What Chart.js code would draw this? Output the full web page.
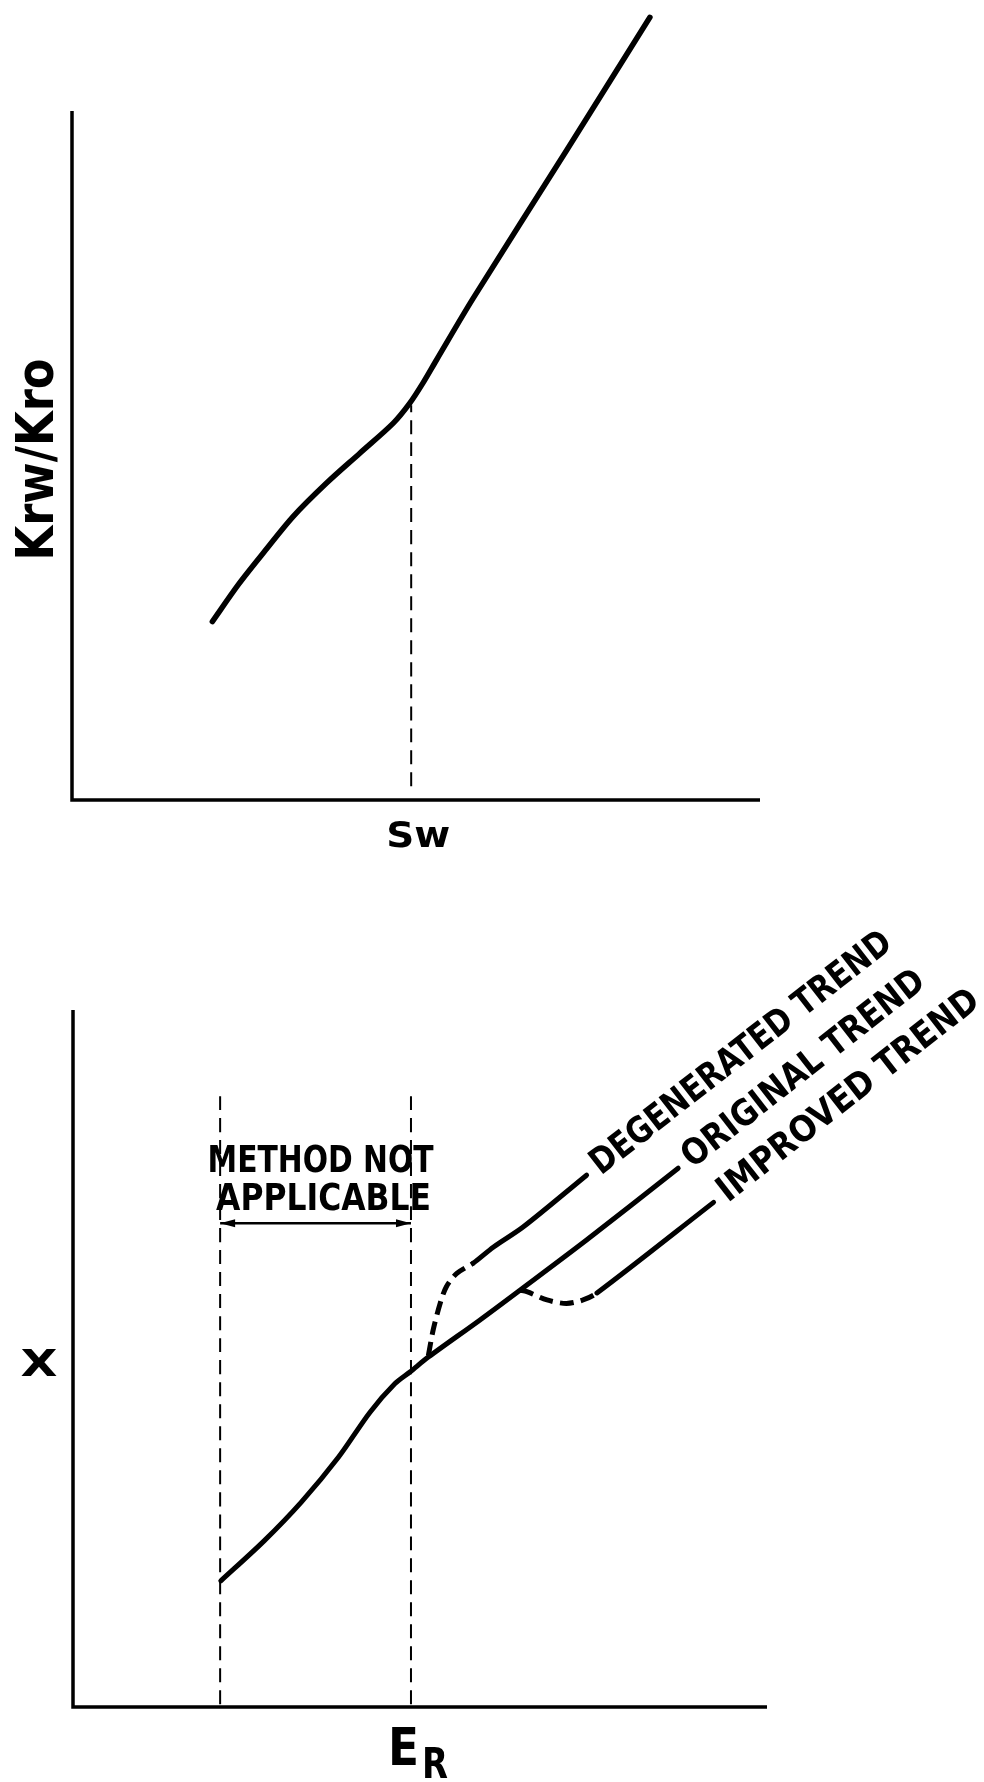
<!DOCTYPE html>
<html>
<head>
<meta charset="utf-8">
<script src="https://cdn.jsdelivr.net/npm/chart.js@4.4.1/dist/chart.umd.min.js"></script>
<style>
  body { margin: 0; background: #fff; width: 984px; height: 1782px; position: relative; overflow: hidden; }
  canvas { position: absolute; left: 0; }
</style>
</head>
<body>
<canvas id="topChart" width="984" height="880" style="top:0"></canvas>
<canvas id="bottomChart" width="984" height="902" style="top:880px"></canvas>
<script>
// --- top chart: Krw/Kro against Sw (axes run 0..100, no numbers in the original)
const swValues = [20.4, 24.2, 28.0, 32.1, 37.0, 41.8, 46.7, 49.1, 51.0, 53.0, 58.3, 71.9, 84.0];
const krwKro   = [25.9, 31.3, 36.1, 41.1, 46.0, 50.3, 54.7, 57.6, 60.5, 63.9, 72.8, 94.3, 113.6];
const swBreakX = [49.3, 49.3];
const swBreakY = [2, 57.3];

// --- bottom chart: X against E_R
const erOriginal = [21.3, 27.5, 32.9, 38.3, 42.8, 46.4, 48.6, 51.2, 58.6, 64.4, 74.0, 87.2];
const xOriginal  = [18.1, 23.8, 29.4, 35.9, 42.3, 46.4, 48.1, 50.2, 55.5, 59.8, 67.0, 77.3];
const erDegenerated = [51.2, 51.9, 52.9, 53.8, 55.3, 57.7, 60.6, 64.9, 74.0];
const xDegenerated  = [50.4, 54.1, 57.9, 60.3, 62.2, 63.7, 66.0, 68.9, 76.3];
const erImproved = [64.4, 65.4, 68.3, 71.1, 73.5, 75.5, 92.3];
const xImproved  = [59.8, 59.6, 58.4, 57.9, 58.4, 59.4, 72.4];
const notApplicableEr = [21.2, 48.7];
const notApplicableY  = [0.4, 87.9];
const arrowY = 69.4;
const trendLabels = ['DEGENERATED TREND', 'ORIGINAL TREND', 'IMPROVED TREND'];

function xy(xs, ys) {
    return xs.map(function(x, i) { return { x: x, y: ys[i] }; });
}

function curve(data, width, extra) {
    return Object.assign({
        data: data,
        borderColor: '#000',
        borderWidth: width,
        pointRadius: 0,
        showLine: true,
        fill: false,
        clip: false,
        tension: 0.3,
        borderCapStyle: 'round',
        borderJoinStyle: 'round'
    }, extra || {});
}

// draws bold text squeezed/stretched to a given width
function fitText(ctx, str, x, y, size, width, align, baseline) {
    ctx.save();
    ctx.font = 'bold ' + size + 'px "DejaVu Sans"';
    ctx.fillStyle = '#000';
    ctx.textAlign = align || 'left';
    ctx.textBaseline = baseline || 'alphabetic';
    const w = ctx.measureText(str).width;
    ctx.translate(x, y);
    ctx.scale(width / w, 1);
    ctx.fillText(str, 0, 0);
    ctx.restore();
}

function drawAxes(ctx, x, y) {
    const x0 = x.getPixelForValue(0), y0 = y.getPixelForValue(0);
    ctx.save();
    ctx.strokeStyle = '#000';
    ctx.lineWidth = 3.5;
    ctx.beginPath();
    ctx.moveTo(x0, y.getPixelForValue(100));
    ctx.lineTo(x0, y0);
    ctx.lineTo(x.getPixelForValue(100), y0);
    ctx.stroke();
    ctx.restore();
}

const baseOptions = function(padding) {
    return {
        responsive: false,
        animation: false,
        devicePixelRatio: 1,
        layout: { padding: padding },
        plugins: { legend: { display: false }, tooltip: { enabled: false } },
        scales: {
            x: { type: 'linear', min: 0, max: 100, display: false },
            y: { type: 'linear', min: 0, max: 100, display: false }
        }
    };
};

const topDecor = {
    id: 'topDecor',
    afterDatasetsDraw(chart) {
        const ctx = chart.ctx, x = chart.scales.x, y = chart.scales.y;
        drawAxes(ctx, x, y);
        fitText(ctx, 'Sw', x.getPixelForValue(swBreakX[0]) + 7, y.getPixelForValue(0) + 47, 35, 64, 'center');
        ctx.save();
        ctx.translate(x.getPixelForValue(0) - 19, y.getPixelForValue(50) + 4);
        ctx.rotate(-Math.PI / 2);
        fitText(ctx, 'Krw/Kro', 0, 0, 52, 202, 'center');
        ctx.restore();
    }
};

const bottomDecor = {
    id: 'bottomDecor',
    afterDatasetsDraw(chart) {
        const ctx = chart.ctx, x = chart.scales.x, y = chart.scales.y;
        drawAxes(ctx, x, y);

        // double arrow between the two dashed lines
        const ax1 = x.getPixelForValue(notApplicableEr[0]);
        const ax2 = x.getPixelForValue(notApplicableEr[1]);
        const ay = y.getPixelForValue(arrowY);
        ctx.save();
        ctx.fillStyle = '#000';
        ctx.beginPath();
        ctx.moveTo(ax1, ay); ctx.lineTo(ax1 + 15, ay - 4); ctx.lineTo(ax1 + 15, ay + 4); ctx.closePath();
        ctx.moveTo(ax2, ay); ctx.lineTo(ax2 - 15, ay - 4); ctx.lineTo(ax2 - 15, ay + 4); ctx.closePath();
        ctx.fill();
        ctx.restore();

        const mid = (ax1 + ax2) / 2;
        fitText(ctx, 'METHOD NOT', mid + 5, ay - 51, 37, 226, 'center');
        fitText(ctx, 'APPLICABLE', mid + 8, ay - 13, 37, 215, 'center');

        // trend labels, rotated along the lines
        const ends = [
            [erDegenerated[erDegenerated.length - 1], xDegenerated[xDegenerated.length - 1], 372],
            [erOriginal[erOriginal.length - 1], xOriginal[xOriginal.length - 1], 298],
            [erImproved[erImproved.length - 1], xImproved[xImproved.length - 1], 322]
        ];
        const ang = 38 * Math.PI / 180;
        ends.forEach(function(e, i) {
            const px = x.getPixelForValue(e[0]) + 11 * Math.cos(ang);
            const py = y.getPixelForValue(e[1]) - 11 * Math.sin(ang);
            ctx.save();
            ctx.translate(px, py);
            ctx.rotate(-ang);
            fitText(ctx, trendLabels[i], 0, 0, 36, e[2], 'left', 'middle');
            ctx.restore();
        });

        // axis titles
        const x0 = x.getPixelForValue(0), y0 = y.getPixelForValue(0);
        fitText(ctx, 'X', x0 - 34, y.getPixelForValue(50) + 17, 37, 37, 'center');
        fitText(ctx, 'E', ax2 - 23, y0 + 58, 51, 31, 'left');
        fitText(ctx, 'R', ax2 + 11, y0 + 71, 42, 26, 'left');
    }
};

new Chart(document.getElementById('topChart'), {
    type: 'scatter',
    data: {
        datasets: [
            curve(xy(swValues, krwKro), 5.5),
            curve(xy(swBreakX, swBreakY), 2, { borderDash: [14, 8], borderCapStyle: 'butt' })
        ]
    },
    options: baseOptions({ left: 72, right: 224, top: 111, bottom: 80 }),
    plugins: [topDecor]
});

const dashedStart = {
    borderDash: function(c) { return c.p0DataIndex < 5 ? [14, 7] : undefined; },
    borderCapStyle: function(c) { return c.p0DataIndex < 5 ? 'butt' : 'round'; }
};

new Chart(document.getElementById('bottomChart'), {
    type: 'scatter',
    data: {
        datasets: [
            curve(xy(erOriginal, xOriginal), 5),
            curve(xy(erDegenerated, xDegenerated), 5, { segment: dashedStart }),
            curve(xy(erImproved, xImproved), 5, { segment: dashedStart }),
            curve(xy([notApplicableEr[0], notApplicableEr[0]], notApplicableY), 2, { borderDash: [14, 8], borderCapStyle: 'butt' }),
            curve(xy([notApplicableEr[1], notApplicableEr[1]], notApplicableY), 2, { borderDash: [14, 8], borderCapStyle: 'butt' }),
            curve(xy(notApplicableEr, [arrowY, arrowY]), 2.5, { borderCapStyle: 'butt' })
        ]
    },
    options: baseOptions({ left: 73, right: 217, top: 130, bottom: 75 }),
    plugins: [bottomDecor]
});
</script>
</body>
</html>
